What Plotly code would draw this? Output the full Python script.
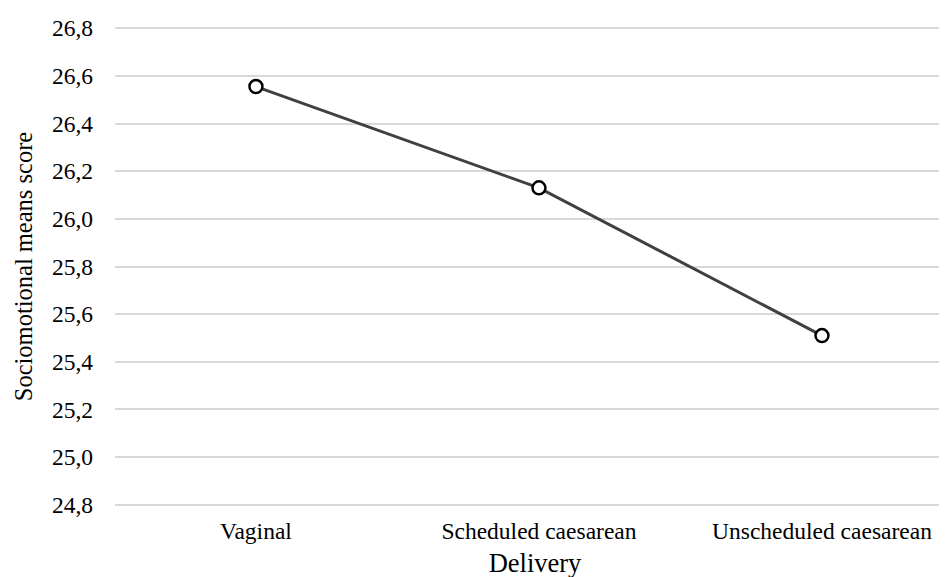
import plotly.graph_objects as go

categories = ["Vaginal", "Scheduled caesarean", "Unscheduled caesarean"]
scores = [26.555, 26.13, 25.51]
y_ticks = [24.8, 25.0, 25.2, 25.4, 25.6, 25.8, 26.0, 26.2, 26.4, 26.6, 26.8]
y_tick_labels = [f"{v:.1f}".replace(".", ",") for v in y_ticks]

FONT = "Liberation Serif"

fig = go.Figure()
fig.add_trace(go.Scatter(
    x=categories, y=scores, mode="lines+markers",
    line=dict(color="#404040", width=3),
    marker=dict(size=13, color="white", line=dict(color="black", width=2.5)),
    showlegend=False,
))

fig.update_layout(
    width=947, height=577,
    margin=dict(l=107, r=0, t=19, b=79),
    plot_bgcolor="white", paper_bgcolor="white",
    font=dict(family=FONT, color="black", size=23.5),
    xaxis=dict(
        type="category",
        range=[-0.498, 2.47],
        showgrid=False, showline=False, zeroline=False,
        ticks="", ticklabelstandoff=8,
        tickfont=dict(family=FONT, size=23.5),
        title=dict(text="Delivery", font=dict(family=FONT, size=26.5), standoff=10),
    ),
    yaxis=dict(
        range=[24.795, 26.805],
        tickvals=y_ticks, ticktext=y_tick_labels,
        showgrid=True, gridcolor="#d9d9d9", gridwidth=1.5,
        showline=False, zeroline=False,
        ticks="", ticklabelstandoff=21,
        tickfont=dict(family=FONT, size=23.5),
        title=dict(text="Sociomotional means score", font=dict(family=FONT, size=24.5), standoff=12),
    ),
)

fig.write_html("out.html")
